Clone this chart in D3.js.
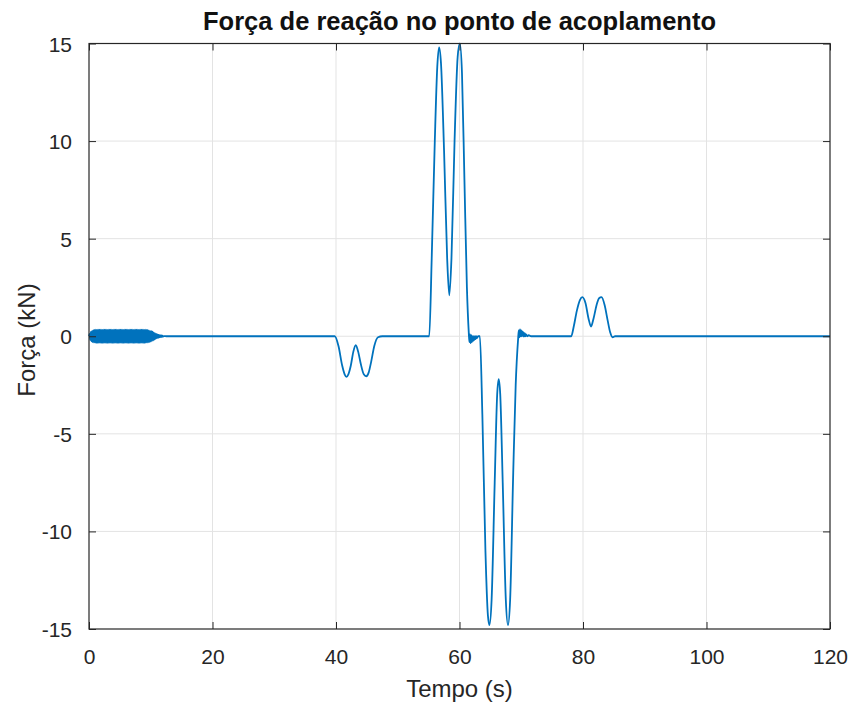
<!DOCTYPE html>
<html>
<head>
<meta charset="utf-8">
<script src="https://cdn.jsdelivr.net/npm/d3@7"></script>
<style>
  body { margin: 0; background: #fff; }
  svg { display: block; }
</style>
</head>
<body>
<svg id="chart" width="853" height="707"></svg>
<script>
// values, [tempo (s), força (kN)]
// start-up vibration: a dense band about +-0.33 kN, 0 to ~12 s
const startup = [
  [0, 0], [0.1, 0.12], [0.2, -0.18], [0.3, 0.22], [0.4, -0.26], [0.5, 0.28], [0.6, -0.3],
  [0.7, 0.31], [0.8, -0.32], [0.9, 0.33], [1.0, -0.33], [1.1, 0.34], [1.2, -0.34],
  [1.3, 0.34], [1.4, -0.34], [1.5, 0.34], [1.6, -0.34], [1.7, 0.34], [1.8, -0.34],
  [1.9, 0.34], [2.0, -0.34], [2.1, 0.34], [2.2, -0.34], [2.3, 0.34], [2.4, -0.34],
  [2.5, 0.34], [2.6, -0.34], [2.7, 0.34], [2.8, -0.34], [2.9, 0.34], [3.0, -0.34],
  [3.1, 0.34], [3.2, -0.34], [3.3, 0.34], [3.4, -0.34], [3.5, 0.34], [3.6, -0.34],
  [3.7, 0.34], [3.8, -0.34], [3.9, 0.34], [4.0, -0.34], [4.1, 0.34], [4.2, -0.34],
  [4.3, 0.34], [4.4, -0.34], [4.5, 0.34], [4.6, -0.34], [4.7, 0.34], [4.8, -0.34],
  [4.9, 0.34], [5.0, -0.34], [5.1, 0.34], [5.2, -0.34], [5.3, 0.34], [5.4, -0.34],
  [5.5, 0.34], [5.6, -0.34], [5.7, 0.34], [5.8, -0.34], [5.9, 0.34], [6.0, -0.34],
  [6.1, 0.34], [6.2, -0.34], [6.3, 0.34], [6.4, -0.34], [6.5, 0.34], [6.6, -0.34],
  [6.7, 0.34], [6.8, -0.34], [6.9, 0.34], [7.0, -0.34], [7.1, 0.34], [7.2, -0.34],
  [7.3, 0.34], [7.4, -0.34], [7.5, 0.34], [7.6, -0.34], [7.7, 0.34], [7.8, -0.34],
  [7.9, 0.34], [8.0, -0.34], [8.1, 0.34], [8.2, -0.34], [8.3, 0.34], [8.4, -0.34],
  [8.5, 0.34], [8.6, -0.34], [8.7, 0.34], [8.8, -0.34], [8.9, 0.34], [9.0, -0.34],
  [9.1, 0.34], [9.2, -0.33], [9.3, 0.33], [9.4, -0.32], [9.5, 0.32], [9.6, -0.31],
  [9.7, 0.3], [9.8, -0.29], [9.9, 0.28], [10.0, -0.27], [10.1, 0.26], [10.2, -0.24],
  [10.3, 0.23], [10.4, -0.21], [10.5, 0.19], [10.6, -0.17], [10.7, 0.15], [10.8, -0.13],
  [10.9, 0.12], [11.0, -0.1], [11.1, 0.09], [11.2, -0.08], [11.3, 0.07], [11.4, -0.06],
  [11.5, 0.05], [11.6, -0.04], [11.7, 0.04], [11.8, -0.03], [11.9, 0.03], [12.0, -0.02],
  [12.2, 0.01], [12.5, 0]
];
const dipA = [
  [39.8, 0], [40.4, -0.5], [41.0, -1.5], [41.4, -1.95], [41.7, -2.08], [42.0, -1.95],
  [42.4, -1.5], [42.8, -0.8], [43.2, -0.46], [43.6, -0.8], [44.0, -1.4], [44.5, -1.95],
  [44.9, -2.05], [45.3, -1.85], [45.7, -1.3], [46.2, -0.5], [46.8, -0.05], [47.5, 0]
];
const peakB = [
  [55.1, 0], [55.5, 4], [56.0, 10], [56.4, 13.8], [56.7, 14.8], [57.0, 14], [57.5, 9.5],
  [58.0, 4], [58.35, 2.1], [58.7, 4], [59.2, 10], [59.7, 14.3], [60.05, 15], [60.4, 13.5],
  [60.8, 8], [61.2, 2.5], [61.5, 0.2]
];
const ringB = [
  [61.6, -0.3], [61.7, 0.1], [61.8, -0.35], [61.9, 0.05], [62.0, -0.3], [62.1, 0],
  [62.2, -0.25], [62.3, 0], [62.4, -0.2], [62.5, 0], [62.6, -0.15], [62.7, 0],
  [62.8, -0.1], [63.0, 0], [63.3, 0]
];
const dipC = [
  [63.3, 0], [63.7, -4], [64.2, -11], [64.6, -14.3], [64.85, -14.8], [65.2, -13.5],
  [65.7, -7.5], [66.1, -3], [66.35, -2.2], [66.6, -3], [67.0, -7.5], [67.5, -13.5],
  [67.85, -14.8], [68.2, -13.5], [68.7, -7], [69.1, -2.5], [69.5, -0.1]
];
const ringC = [
  [69.6, 0.3], [69.7, -0.05], [69.8, 0.35], [69.9, 0], [70.0, 0.3], [70.1, 0],
  [70.2, 0.25], [70.3, 0], [70.4, 0.2], [70.5, 0], [70.6, 0.15], [70.7, 0],
  [70.8, 0.1], [71.0, 0], [71.2, 0.05], [71.6, 0], [72.0, 0]
];
const peakD = [
  [78.1, 0], [78.5, 0.5], [79.0, 1.3], [79.5, 1.85], [79.9, 2.0], [80.4, 1.7], [80.9, 0.9],
  [81.3, 0.5], [81.7, 0.9], [82.2, 1.6], [82.6, 1.95], [83.0, 2.0], [83.5, 1.6], [84.0, 0.8],
  [84.4, 0.2], [84.8, -0.05], [85.2, 0], [120, 0]
];

const xTicks = [0, 20, 40, 60, 80, 100, 120];
const yTicks = [-15, -10, -5, 0, 5, 10, 15];

const titleText = "Força de reação no ponto de acoplamento";
const xLabel = "Tempo (s)";
const yLabel = "Força (kN)";

const margin = { top: 43.5, right: 23, bottom: 78, left: 89 };
const width = 853;
const height = 707;
const chartWidth = width - margin.left - margin.right;
const chartHeight = height - margin.top - margin.bottom;
const fontFamily = "'Liberation Sans', Arial, Helvetica, sans-serif";
const textColour = "#262626";

const data = [].concat(startup, dipA, peakB, ringB, dipC, ringC, peakD);

const svg = d3.select("#chart");

const xScale = d3.scaleLinear().domain([0, 120]).range([0, chartWidth]);
const yScale = d3.scaleLinear().domain([-15, 15]).range([chartHeight, 0]);

const chart = svg.append("g")
  .attr("transform", "translate(" + margin.left + "," + margin.top + ")");

// grid
chart.append("g")
  .selectAll("line")
  .data(xTicks.slice(1, -1))
  .join("line")
  .attr("x1", d => xScale(d)).attr("x2", d => xScale(d))
  .attr("y1", 0).attr("y2", chartHeight)
  .style("stroke", "#e3e3e3").style("stroke-width", 1);

chart.append("g")
  .selectAll("line")
  .data(yTicks.slice(1, -1))
  .join("line")
  .attr("x1", 0).attr("x2", chartWidth)
  .attr("y1", d => yScale(d)).attr("y2", d => yScale(d))
  .style("stroke", "#e3e3e3").style("stroke-width", 1);

// the curve
const lineData = d3.line()
  .x(d => xScale(d[0]))
  .y(d => yScale(d[1]))
  .curve(d3.curveMonotoneX);

chart.append("path")
  .datum(data)
  .style("fill", "none")
  .style("stroke", "#0072BD")
  .style("stroke-width", "1.8px")
  .style("stroke-linejoin", "round")
  .attr("d", lineData);

// axes, MATLAB style box with inward ticks
const tickLen = 7;
const plain = d => String(d); // hyphen minus like the original
const xAxis = d3.axisBottom(xScale).tickValues(xTicks).tickFormat(plain).tickSizeInner(-tickLen).tickSizeOuter(0).tickPadding(20);
const yAxis = d3.axisLeft(yScale).tickValues(yTicks).tickFormat(plain).tickSizeInner(-tickLen).tickSizeOuter(0).tickPadding(17);

const gx = chart.append("g")
  .attr("transform", "translate(0," + chartHeight + ")")
  .style("color", textColour)
  .style("font-size", "21px")
  .style("font-family", fontFamily)
  .call(xAxis);
gx.select(".domain").remove();

const gy = chart.append("g")
  .style("color", textColour)
  .style("font-size", "21px")
  .style("font-family", fontFamily)
  .call(yAxis);
gy.select(".domain").remove();
gy.selectAll(".tick text").attr("dy", "0.36em");

chart.append("g")
  .call(d3.axisTop(xScale).tickValues(xTicks).tickSizeInner(-tickLen).tickSizeOuter(0).tickFormat(""))
  .style("color", textColour)
  .select(".domain").remove();

chart.append("g")
  .attr("transform", "translate(" + chartWidth + ",0)")
  .call(d3.axisRight(yScale).tickValues(yTicks).tickSizeInner(-tickLen).tickSizeOuter(0).tickFormat(""))
  .style("color", textColour)
  .select(".domain").remove();

chart.append("rect")
  .attr("x", 0).attr("y", 0)
  .attr("width", chartWidth).attr("height", chartHeight)
  .style("fill", "none")
  .style("stroke", textColour)
  .style("stroke-width", 1.2);

// texts
svg.append("text")
  .attr("x", margin.left + chartWidth / 2)
  .attr("y", 30)
  .attr("text-anchor", "middle")
  .style("font-family", fontFamily)
  .style("font-size", "25.5px")
  .style("font-weight", "bold")
  .style("fill", "#111")
  .text(titleText);

svg.append("text")
  .attr("x", margin.left + chartWidth / 2)
  .attr("y", 697)
  .attr("text-anchor", "middle")
  .style("font-family", fontFamily)
  .style("font-size", "24px")
  .style("fill", textColour)
  .text(xLabel);

svg.append("text")
  .attr("transform", "translate(35," + 340 + ") rotate(-90)")
  .attr("text-anchor", "middle")
  .style("font-family", fontFamily)
  .style("font-size", "24px")
  .style("fill", textColour)
  .text(yLabel);
</script>
</body>
</html>
